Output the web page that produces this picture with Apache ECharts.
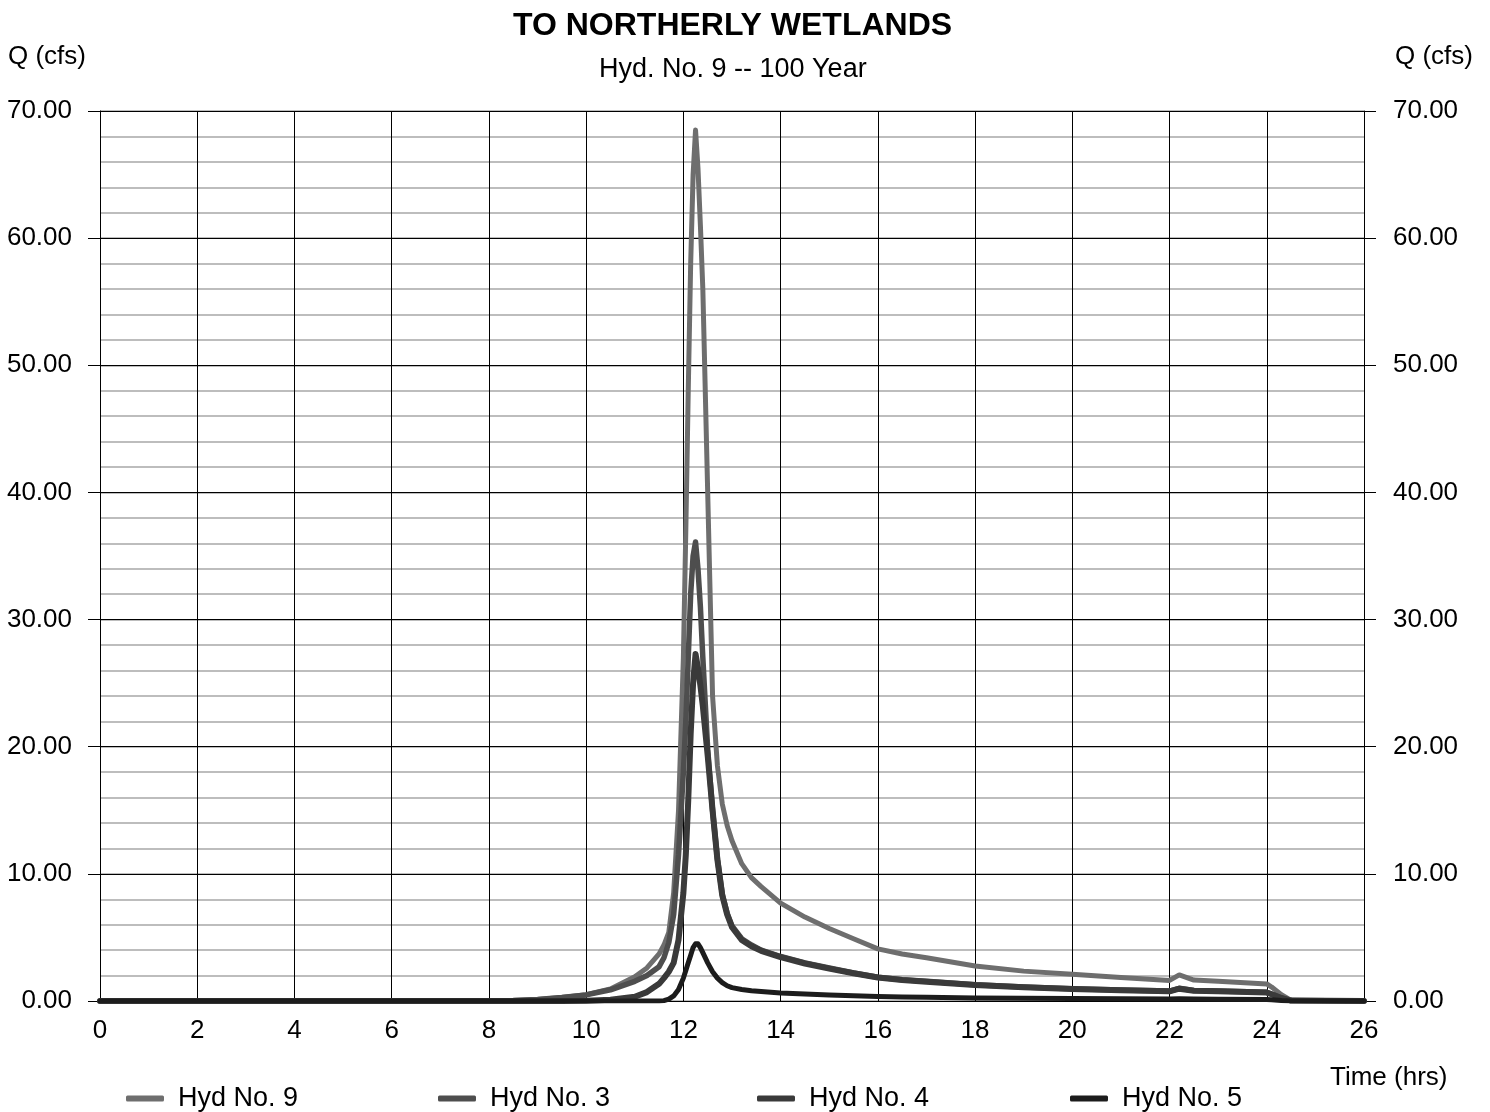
<!DOCTYPE html>
<html>
<head>
<meta charset="utf-8">
<script src="https://cdn.jsdelivr.net/npm/echarts@6/dist/echarts.min.js"></script>
<style>html,body{margin:0;padding:0;background:#fff}#c{width:1490px;height:1112px}</style>
</head>
<body>
<div id="c"></div>
<script>
var times = [0, 8, 8.5, 9, 9.5, 10, 10.5, 11, 11.25, 11.5, 11.6, 11.7, 11.8, 11.9, 12.0, 12.05, 12.1, 12.15, 12.2, 12.25, 12.3, 12.35, 12.4, 12.5, 12.6, 12.7, 12.8, 12.9, 13.0, 13.2, 13.4, 13.6, 14.0, 14.5, 15, 15.5, 16, 16.5, 17, 18, 19, 20, 21, 22, 22.2, 22.5, 23, 24, 24.1, 24.3, 24.5, 26];
var hyd9 = [0, 0, 0.03, 0.12, 0.28, 0.5, 0.95, 1.9, 2.6, 3.7, 4.4, 5.4, 8.5, 15, 27, 37, 48, 58, 65, 68.5, 65.5, 61, 56, 40, 24, 18.5, 15.5, 13.8, 12.6, 10.8, 9.7, 9.0, 7.7, 6.6, 5.7, 4.9, 4.1, 3.7, 3.4, 2.75, 2.35, 2.1, 1.85, 1.62, 2.05, 1.65, 1.55, 1.34, 1.1, 0.5, 0.05, 0];
var hyd3 = [0, 0, 0.03, 0.12, 0.27, 0.48, 0.88, 1.55, 2.0, 2.7, 3.4, 4.6, 6.8, 11.5, 18, 22, 27, 32, 35, 36.1, 34, 31, 27, 19.8, 15.0, 11.2, 8.4, 6.9, 5.9, 4.9, 4.4, 4.0, 3.5, 3.0, 2.6, 2.2, 1.87, 1.68, 1.55, 1.28, 1.1, 0.96, 0.87, 0.78, 1.0, 0.82, 0.78, 0.68, 0.55, 0.25, 0.03, 0];
var hyd4 = [0, 0, 0, 0, 0, 0.02, 0.1, 0.33, 0.7, 1.35, 1.8, 2.3, 3.0, 4.8, 8.5, 11.5, 15.8, 21, 25, 27.3, 26.2, 24.8, 23.2, 19.3, 15.0, 11.1, 8.3, 6.8, 5.8, 4.8, 4.3, 3.95, 3.45, 2.95, 2.55, 2.18, 1.85, 1.66, 1.52, 1.25, 1.08, 0.94, 0.85, 0.76, 0.97, 0.8, 0.76, 0.66, 0.53, 0.24, 0.03, 0];
var hyd5 = [0, 0, 0, 0, 0, 0, 0, 0, 0, 0, 0.03, 0.15, 0.4, 0.9, 1.8, 2.4, 3.0, 3.6, 4.2, 4.5, 4.5, 4.2, 3.8, 3.0, 2.3, 1.8, 1.45, 1.2, 1.05, 0.9, 0.8, 0.74, 0.63, 0.55, 0.48, 0.42, 0.36, 0.32, 0.29, 0.24, 0.21, 0.19, 0.17, 0.15, 0.18, 0.15, 0.14, 0.12, 0.1, 0.04, 0, 0];
var seriesNames = ['Hyd No. 9', 'Hyd No. 3', 'Hyd No. 4', 'Hyd No. 5'];
var seriesValues = [hyd9, hyd3, hyd4, hyd5];
var seriesColors = ['#6e6e6e', '#4e4e4e', '#3a3a3a', '#1c1c1c'];
var seriesWidths = [5, 5.5, 6, 5];
var legendLefts = [126, 438, 757, 1070];

var FONT = "'Liberation Sans', Arial, sans-serif";
var chart = echarts.init(document.getElementById('c'), null, {renderer: 'canvas'});

function pairs(vals) {
  return times.map(function (t, i) { return [t, vals[i]]; });
}

var series = seriesNames.map(function (n, i) {
  return {
    name: n, type: 'line', xAxisIndex: 0, yAxisIndex: 0,
    data: pairs(seriesValues[i]),
    showSymbol: false, symbol: 'none', smooth: false,
    lineStyle: {color: seriesColors[i], width: seriesWidths[i], cap: 'round', join: 'round'},
    itemStyle: {color: seriesColors[i]},
    z: 10 + i, silent: true, animation: false
  };
});

var legends = seriesNames.map(function (n, i) {
  return {
    data: [n], left: legendLefts[i], top: 1085,
    icon: 'roundRect', itemWidth: 38, itemHeight: 6, padding: 0,
    textStyle: {fontFamily: FONT, fontSize: 27, color: '#000', padding: [0, 0, 0, 9]},
    selectedMode: false
  };
});

var option = {
  backgroundColor: '#fff',
  animation: false,
  title: [
    {text: 'TO NORTHERLY WETLANDS', left: 513, top: 10, padding: 0,
     textStyle: {fontFamily: FONT, fontSize: 32, fontWeight: 'bold', color: '#000'}},
    {text: 'Hyd. No. 9 -- 100 Year', left: 599, top: 56, padding: 0,
     textStyle: {fontFamily: FONT, fontSize: 27, fontWeight: 'normal', color: '#000'}},
    {text: 'Q (cfs)', left: 8, top: 44, padding: 0,
     textStyle: {fontFamily: FONT, fontSize: 26, fontWeight: 'normal', color: '#000'}},
    {text: 'Q (cfs)', left: 1395, top: 44, padding: 0,
     textStyle: {fontFamily: FONT, fontSize: 26, fontWeight: 'normal', color: '#000'}},
    {text: 'Time (hrs)', left: 1330, top: 1065, padding: 0,
     textStyle: {fontFamily: FONT, fontSize: 26, fontWeight: 'normal', color: '#000'}}
  ],
  legend: legends,
  grid: {left: 100, right: 126, top: 111, bottom: 111, containLabel: false},
  xAxis: [{
    type: 'value', min: 0, max: 26, interval: 2,
    axisLine: {show: true, lineStyle: {color: '#000', width: 1}},
    axisTick: {show: false},
    axisLabel: {fontFamily: FONT, fontSize: 26, color: '#000', margin: 17},
    splitLine: {show: true, lineStyle: {color: '#000', width: 1}}
  }],
  yAxis: [
    {
      type: 'value', min: 0, max: 70, interval: 2, position: 'left',
      axisLine: {show: false}, axisTick: {show: false}, axisLabel: {show: false},
      splitLine: {show: true, lineStyle: {color: '#bdbdbd', width: 2}}
    },
    {
      type: 'value', min: 0, max: 70, interval: 10, position: 'left',
      axisLine: {show: true, lineStyle: {color: '#000', width: 1}},
      axisTick: {show: true, inside: false, length: 12, lineStyle: {color: '#000', width: 1}},
      axisLabel: {fontFamily: FONT, fontSize: 26, color: '#000', margin: 28,
                  formatter: function (v) { return v.toFixed(2); }},
      splitLine: {show: true, lineStyle: {color: '#000', width: 1}}
    },
    {
      type: 'value', min: 0, max: 70, interval: 10, position: 'right',
      axisLine: {show: true, onZero: false, lineStyle: {color: '#000', width: 1}},
      axisTick: {show: true, inside: false, length: 12, lineStyle: {color: '#000', width: 1}},
      axisLabel: {fontFamily: FONT, fontSize: 26, color: '#000', margin: 29,
                  formatter: function (v) { return v.toFixed(2); }},
      splitLine: {show: false}
    }
  ],
  series: series
};
chart.setOption(option);
</script>
</body>
</html>
